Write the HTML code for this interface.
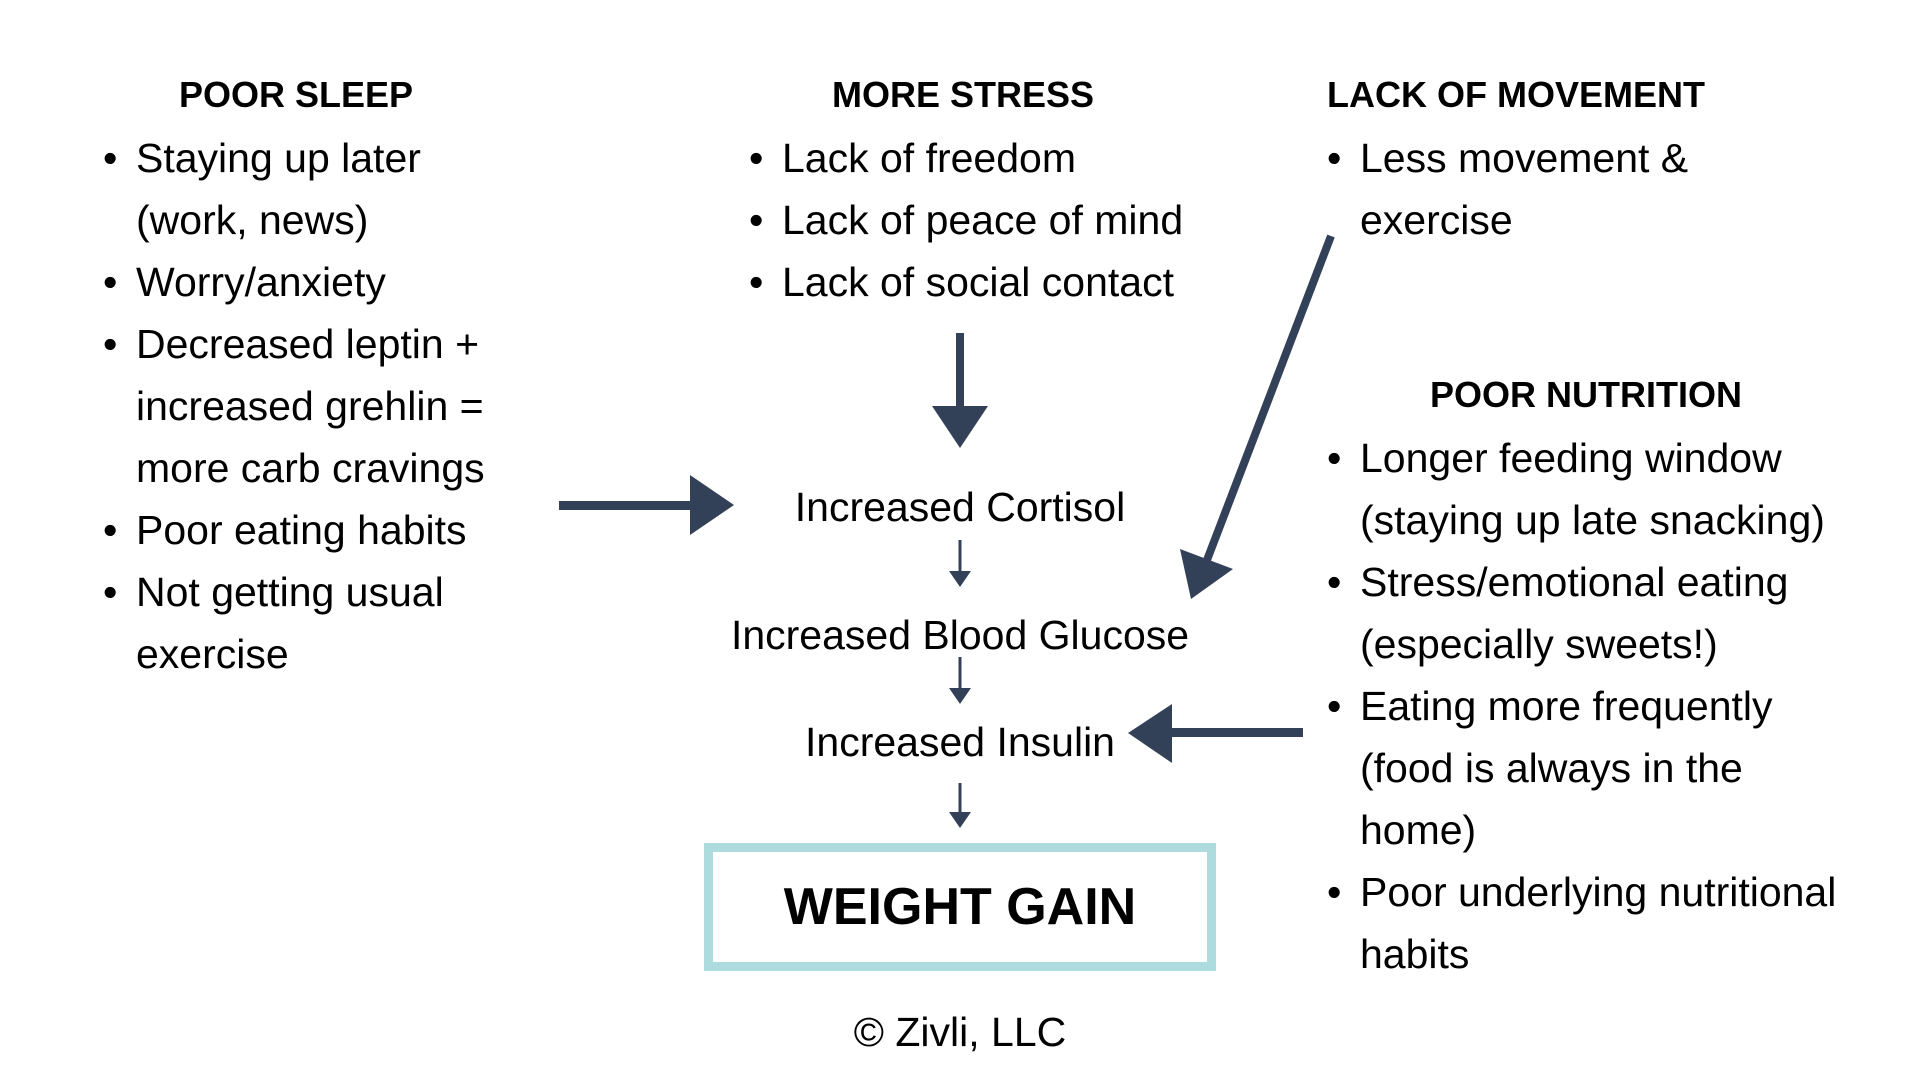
<!DOCTYPE html>
<html><head><meta charset="utf-8"><style>
html,body{margin:0;padding:0;background:#fff;}
body{width:1920px;height:1080px;position:relative;overflow:hidden;font-family:"Liberation Sans",sans-serif;color:#000;}
.h{position:absolute;font-weight:bold;font-size:36px;line-height:40px;white-space:nowrap;transform:translateX(-50%);}
.list{position:absolute;font-size:41px;line-height:62px;white-space:nowrap;}
.list div{position:relative;}
.b{position:absolute;left:-33px;}
.c{position:absolute;font-size:41px;line-height:46px;white-space:nowrap;transform:translateX(-50%);left:960px;}
</style></head><body>
<div class="h" style="left:296px;top:75px;">POOR SLEEP</div>
<div class="h" style="left:963px;top:75px;">MORE STRESS</div>
<div class="h" style="left:1516px;top:75px;">LACK OF MOVEMENT</div>
<div class="h" style="left:1586px;top:375px;">POOR NUTRITION</div>

<div class="list" style="left:136px;top:127px;">
<div><span class="b">•</span>Staying up later</div>
<div>(work, news)</div>
<div><span class="b">•</span>Worry/anxiety</div>
<div><span class="b">•</span>Decreased leptin +</div>
<div>increased grehlin =</div>
<div>more carb cravings</div>
<div><span class="b">•</span>Poor eating habits</div>
<div><span class="b">•</span>Not getting usual</div>
<div>exercise</div>
</div>

<div class="list" style="left:782px;top:127px;">
<div><span class="b">•</span>Lack of freedom</div>
<div><span class="b">•</span>Lack of peace of mind</div>
<div><span class="b">•</span>Lack of social contact</div>
</div>

<div class="list" style="left:1360px;top:127px;">
<div><span class="b">•</span>Less movement &amp;</div>
<div>exercise</div>
</div>

<div class="list" style="left:1360px;top:427px;">
<div><span class="b">•</span>Longer feeding window</div>
<div>(staying up late snacking)</div>
<div><span class="b">•</span>Stress/emotional eating</div>
<div>(especially sweets!)</div>
<div><span class="b">•</span>Eating more frequently</div>
<div>(food is always in the</div>
<div>home)</div>
<div><span class="b">•</span>Poor underlying nutritional</div>
<div>habits</div>
</div>

<div class="c" style="top:484px;">Increased Cortisol</div>
<div class="c" style="top:612px;">Increased Blood Glucose</div>
<div class="c" style="top:719px;">Increased Insulin</div>

<div style="position:absolute;left:704px;top:843px;width:494px;height:110px;border:9px solid #aedcde;"></div>
<div class="c" style="top:877px;font-weight:bold;font-size:52px;line-height:60px;">WEIGHT GAIN</div>
<div class="c" style="top:1009px;">© Zivli, LLC</div>

<svg width="1920" height="1080" style="position:absolute;left:0;top:0;" xmlns="http://www.w3.org/2000/svg">
<g fill="#334158" stroke="none">
<rect x="956" y="333" width="8" height="75"/>
<polygon points="932,406 988,406 960,448"/>
<rect x="958.5" y="540" width="3" height="33"/>
<polygon points="949,571 971,571 960,587"/>
<rect x="958.5" y="657" width="3" height="33"/>
<polygon points="949,688 971,688 960,704"/>
<rect x="958.5" y="783" width="3" height="31"/>
<polygon points="949,812 971,812 960,828"/>
<rect x="559" y="501" width="133" height="9"/>
<polygon points="690,475 690,535 734,505"/>
<rect x="1170" y="728" width="133" height="9"/>
<polygon points="1172,704 1172,763 1128,733"/>
<polygon points="1180,549 1233,569 1191,599"/>
</g>
<line x1="1331" y1="236" x2="1207" y2="560" stroke="#334158" stroke-width="8"/>
</svg>
</body></html>
